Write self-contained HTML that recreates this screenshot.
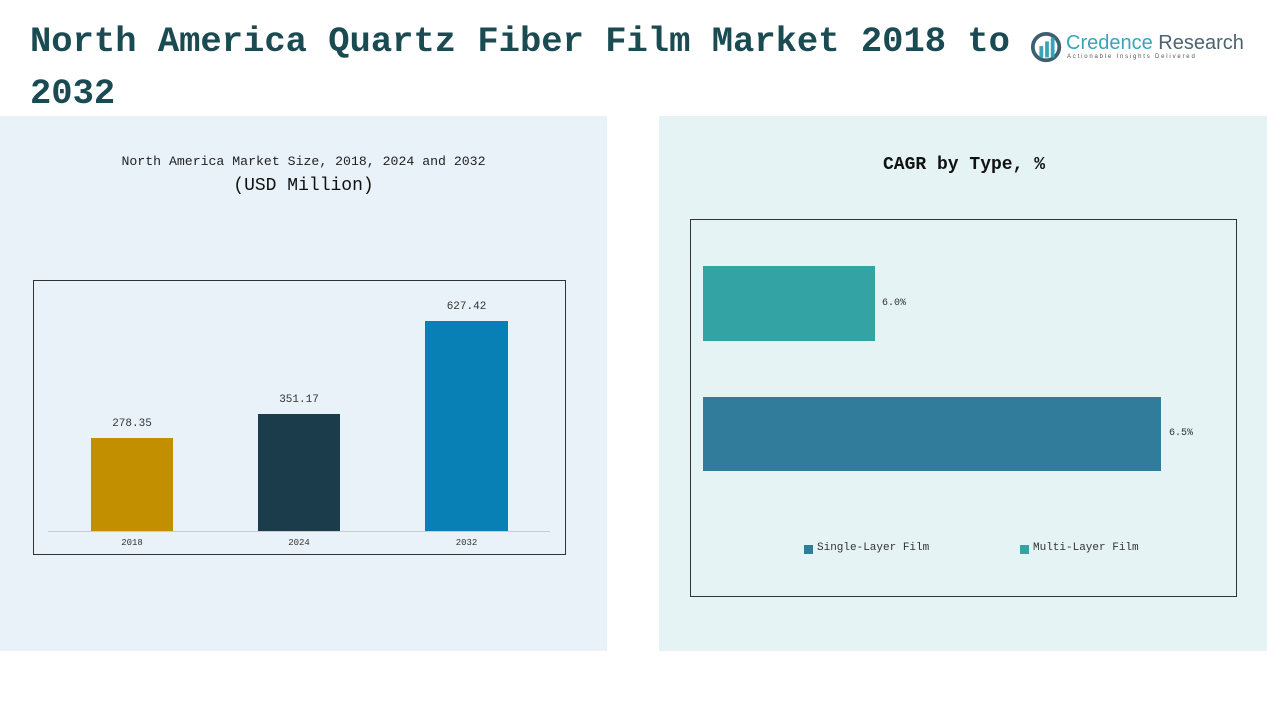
<!DOCTYPE html>
<html><head><meta charset="utf-8"><style>
body{margin:0;width:1267px;height:713px;background:#fff;position:relative;overflow:hidden;font-family:"Liberation Mono","Noto Serif CJK SC",monospace;}
.a{position:absolute}
</style></head><body>
<div class="a" style="left:0;top:116px;width:607px;height:535px;background:#e9f2f8"></div>
<div class="a" style="left:659px;top:116px;width:608px;height:535px;background:#e5f3f4"></div>
<div class="a" style="left:30px;top:16px;font-size:35.5px;font-weight:bold;color:#1a4a52;line-height:52px;width:1000px">North America Quartz Fiber Film Market 2018 to<br>2032</div>
<svg class="a" style="left:1030px;top:31px" width="34" height="34" viewBox="0 0 36 36"><circle cx="17" cy="17" r="14" fill="none" stroke="#3d5f70" stroke-width="4"/><rect x="10" y="16" width="4" height="12" fill="#3aa3b8"/><rect x="16" y="11" width="4" height="17" fill="#3aa3b8"/><rect x="22" y="7" width="4" height="21" fill="#3aa3b8"/></svg>
<div class="a" style="left:1066px;top:32px;font-family:'Liberation Sans',sans-serif;font-size:20px;color:#3aa3b8">Credence <span style="color:#4d6470">Research</span></div>
<div class="a" style="left:1067px;top:54px;font-family:'Liberation Sans',sans-serif;font-size:6px;letter-spacing:1.8px;color:#555">Actionable Insights Delivered</div>

<div class="a" style="left:0;width:607px;top:154px;text-align:center;font-size:13.2px;color:#222">North America Market Size, 2018, 2024 and 2032</div>
<div class="a" style="left:0;width:607px;top:176px;text-align:center;font-size:18px;color:#111">(USD Million)</div>
<div class="a" style="left:33px;top:280px;width:531px;height:273px;border:1px solid #333"></div>
<div class="a" style="left:48px;top:531px;width:502px;height:1px;background:#ccc"></div>
<div class="a" style="left:91px;top:438px;width:82px;height:93px;background:#c18f00"></div>
<div class="a" style="left:258px;top:414px;width:82px;height:117px;background:#1a3c4b"></div>
<div class="a" style="left:425px;top:321px;width:83px;height:210px;background:#0880b5"></div>
<div class="a" style="left:91px;width:82px;top:418px;text-align:center;font-size:11px;color:#333">278.35</div>
<div class="a" style="left:258px;width:82px;top:394px;text-align:center;font-size:11px;color:#333">351.17</div>
<div class="a" style="left:425px;width:83px;top:301px;text-align:center;font-size:11px;color:#333">627.42</div>
<div class="a" style="left:91px;width:82px;top:538px;text-align:center;font-size:9px;color:#333">2018</div>
<div class="a" style="left:258px;width:82px;top:538px;text-align:center;font-size:9px;color:#333">2024</div>
<div class="a" style="left:425px;width:83px;top:538px;text-align:center;font-size:9px;color:#333">2032</div>

<div class="a" style="left:580px;top:155px;text-align:center;font-size:18px;font-weight:bold;color:#111;width:768px">CAGR by Type, %</div>
<div class="a" style="left:690px;top:219px;width:545px;height:376px;border:1px solid #333"></div>
<div class="a" style="left:703px;top:266px;width:172px;height:75px;background:#33a3a3"></div>
<div class="a" style="left:703px;top:397px;width:458px;height:74px;background:#317b9b"></div>
<div class="a" style="left:882px;top:298px;font-size:10px;color:#333">6.0%</div>
<div class="a" style="left:1169px;top:428px;font-size:10px;color:#333">6.5%</div>
<div class="a" style="left:804px;top:545px;width:9px;height:9px;background:#317b9b"></div>
<div class="a" style="left:817px;top:542px;font-size:11px;color:#333">Single-Layer Film</div>
<div class="a" style="left:1020px;top:545px;width:9px;height:9px;background:#33a3a3"></div>
<div class="a" style="left:1033px;top:542px;font-size:11px;color:#333">Multi-Layer Film</div>
</body></html>
